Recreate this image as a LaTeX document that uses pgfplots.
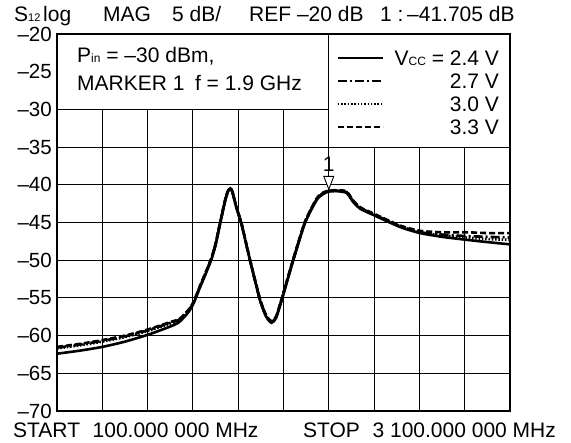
\documentclass[border=0pt]{standalone}
\usepackage{fontspec}
\setmainfont{Liberation Sans}
\usepackage{pgfplots}
\pgfplotsset{compat=1.18}
\newcommand{\bigf}{\fontsize{21}{25}\selectfont}
\newcommand{\tickf}{\fontsize{20.5}{24}\selectfont}
\newcommand{\smf}{\fontsize{12}{12}\selectfont}
\newcommand{\smff}{\fontsize{11}{11}\selectfont}
\begin{document}
\begin{tikzpicture}
\path[use as bounding box] (-57pt,-32pt) rectangle (514pt,411pt);
\begin{axis}[
  at={(0pt,0pt)}, anchor=south west,
  scale only axis, width=453pt, height=377pt,
  xmin=100, xmax=3100, ymin=-70, ymax=-20,
  xtick={100,400,700,1000,1300,1600,1900,2200,2500,2800,3100},
  xticklabels={},
  ytick={-70,-65,-60,-55,-50,-45,-40,-35,-30,-25,-20},
  yticklabels={–70,–65,–60,–55,–50,–45,–40,–35,–30,–25,–20},
  major tick length=0pt,
  grid=major, grid style={black, line width=0.9pt},
  axis line style={line width=1.8pt},
  yticklabel style={font=\tickf, inner sep=0pt, xshift=-5pt},
  clip=false,
  legend style={at={(rel axis cs:1,1)}, anchor=north east, xshift=-11pt, yshift=-17pt,
    draw=none, fill=none, inner sep=0pt, outer sep=0pt, font=\bigf,
    row sep=8.5pt, column sep=11pt,
    nodes={inner sep=0pt, text height=14.5pt, text depth=0pt}},
  legend cell align=right,
  legend image code/.code={\draw[#1, line width=1.6pt] (0pt,0pt) -- (45pt,0pt);},
  every axis plot/.append style={black, line width=2.6pt, smooth, tension=0.4},
]
\fill[white] (axis cs:100,-30) rectangle (axis cs:1900,-20);
\fill[white] (axis cs:1900,-35) rectangle (axis cs:3100,-20);
\draw[line width=0.9pt] (axis cs:100,-30) -- (axis cs:1900,-30) -- (axis cs:1900,-20);
\draw[line width=0.9pt] (axis cs:1900,-20) -- (axis cs:1900,-35) -- (axis cs:3100,-35);

% V_CC = 2.4 V (solid)
\addplot[solid] coordinates {
(100,-62.4)(250,-62.0)(400,-61.5)(550,-60.8)(700,-59.9)(850,-58.8)(910,-58.2)
(970,-56.9)(1005,-55.7)(1047,-53.6)(1093,-51.4)(1124,-49.8)(1150,-48.0)(1179,-45.3)
(1213,-42.2)(1232,-40.9)(1248,-40.5)(1262,-41.0)(1285,-42.8)(1323,-45.3)(1378,-50.0)
(1444,-55.3)(1485,-57.5)(1520,-58.3)(1550,-57.7)(1588,-55.3)(1665,-50.0)(1742,-45.1)
(1820,-42.0)(1865,-41.2)(1900,-40.9)(1960,-40.85)(2019,-41.1)(2062,-42.3)(2110,-43.2)
(2195,-44.0)(2372,-45.6)(2504,-46.4)(2650,-46.9)(2813,-47.3)(2950,-47.6)(3100,-47.9)};
\addlegendentry{V{\smf CC} = 2.4 V}

% V_CC = 2.7 V (dash dot)
\addplot[dash pattern=on 9pt off 3pt on 2pt off 3pt] coordinates {
(100,-61.6)(250,-61.2)(400,-60.7)(550,-60.1)(700,-59.3)(850,-58.3)(910,-57.9)
(970,-56.7)(1005,-55.6)(1047,-53.5)(1093,-51.3)(1124,-49.7)(1150,-47.9)(1179,-45.2)
(1213,-42.1)(1232,-40.9)(1248,-40.5)(1262,-41.0)(1285,-42.8)(1323,-45.3)(1378,-50.0)
(1444,-55.2)(1485,-57.4)(1520,-58.2)(1550,-57.6)(1588,-55.2)(1665,-49.9)(1742,-45.0)
(1820,-41.9)(1865,-41.1)(1900,-40.8)(1960,-40.8)(2019,-41.0)(2062,-42.2)(2110,-43.1)
(2195,-43.9)(2372,-45.5)(2504,-46.3)(2650,-46.6)(2813,-46.8)(2950,-46.9)(3100,-47.0)};
\addlegendentry{2.7 V}

% V_CC = 3.0 V (dotted)
\addplot[dash pattern=on 1.5pt off 1.8pt] coordinates {
(100,-61.7)(250,-61.3)(400,-60.8)(550,-60.2)(700,-59.4)(850,-58.4)(910,-57.9)
(970,-56.7)(1005,-55.6)(1047,-53.5)(1093,-51.3)(1124,-49.7)(1150,-47.9)(1179,-45.2)
(1213,-42.1)(1232,-40.9)(1248,-40.5)(1262,-41.0)(1285,-42.8)(1323,-45.3)(1378,-50.0)
(1444,-55.2)(1485,-57.4)(1520,-58.2)(1550,-57.6)(1588,-55.2)(1665,-49.9)(1742,-45.0)
(1820,-41.9)(1865,-41.1)(1900,-40.8)(1960,-40.8)(2019,-41.0)(2062,-42.2)(2110,-43.1)
(2195,-43.9)(2372,-45.5)(2504,-46.3)(2650,-46.7)(2813,-47.0)(2950,-47.2)(3100,-47.3)};
\addlegendentry{3.0 V}

% V_CC = 3.3 V (dashed)
\addplot[dash pattern=on 6pt off 3pt] coordinates {
(100,-61.5)(250,-61.1)(400,-60.6)(550,-60.0)(700,-59.2)(850,-58.2)(910,-57.8)
(970,-56.6)(1005,-55.5)(1047,-53.4)(1093,-51.2)(1124,-49.6)(1150,-47.8)(1179,-45.1)
(1213,-42.0)(1232,-40.8)(1248,-40.4)(1262,-40.9)(1285,-42.7)(1323,-45.2)(1378,-49.9)
(1444,-55.1)(1485,-57.3)(1520,-58.1)(1550,-57.5)(1588,-55.1)(1665,-49.8)(1742,-44.9)
(1820,-41.8)(1865,-41.0)(1900,-40.8)(1960,-40.7)(2019,-40.9)(2062,-42.1)(2110,-43.0)
(2195,-43.8)(2372,-45.4)(2504,-46.1)(2650,-46.3)(2813,-46.3)(2950,-46.4)(3100,-46.4)};
\addlegendentry{3.3 V}

% marker 1
\draw[line width=0.9pt, fill=white] (axis cs:1900,-40.6) -- ++(-5pt,13pt) -- ++(10pt,0pt) -- cycle;
\node[anchor=base, inner sep=0pt, font=\bigf] at (axis cs:1900,-40.6) [yshift=18pt] {1};
\end{axis}
\draw[line width=1.8pt] (0pt,0pt) rectangle (453pt,377pt);
\begin{scope}[every node/.style={anchor=base west, inner sep=0pt, font=\bigf}]
\node at (-43pt,389pt) {S{\smff 12}};
\node at (-14pt,389pt) {log};
\node at (46pt,389pt) {MAG};
\node at (115pt,389pt) {5 dB/};
\node at (192pt,389pt) {REF –20 dB};
\node at (323pt,389pt) {1 :};
\node at (350pt,389pt) {–41.705 dB};
\node at (-44pt,-27pt) {START\hspace{0.6em}100.000 000 MHz};
\node at (246pt,-27pt) {STOP\hspace{0.6em}3 100.000 000 MHz};
\node at (20pt,348pt) {P{\smf in} = –30 dBm,};
\node at (20pt,320pt) {MARKER 1\hspace{0.5em}f = 1.9 GHz};
\end{scope}
\end{tikzpicture}
\end{document}
